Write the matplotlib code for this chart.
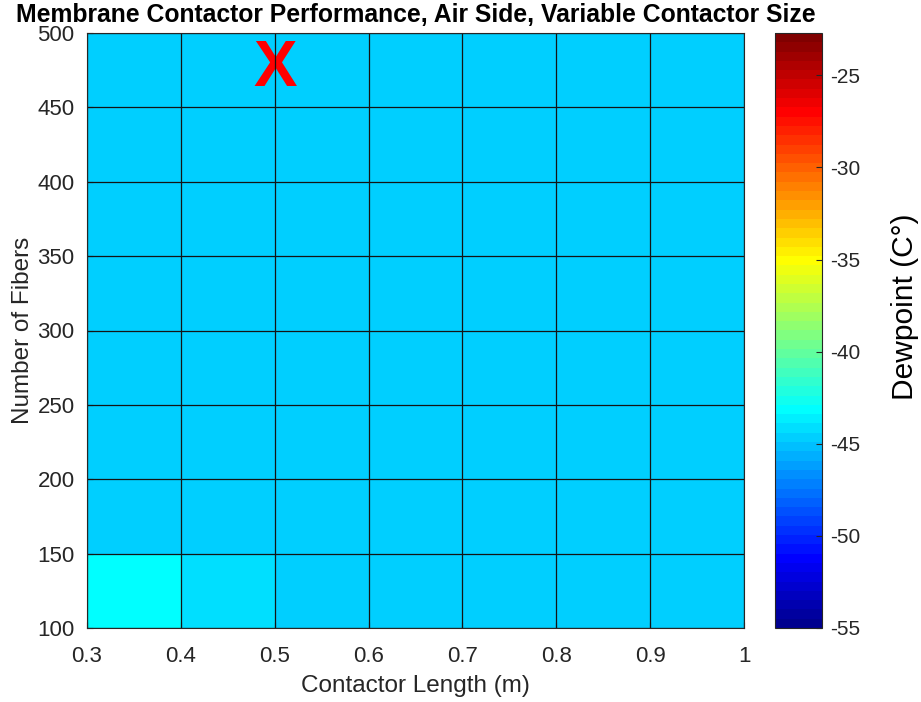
import numpy as np
import matplotlib
matplotlib.use("Agg")
import matplotlib.pyplot as plt
from matplotlib.colors import ListedColormap

plt.rcParams['font.family'] = ['Liberation Sans', 'DejaVu Sans']
plt.rcParams['axes.unicode_minus'] = False

# grid edges (contactor length in m, number of fibers)
lengths = [0.3, 0.4, 0.5, 0.6, 0.7, 0.8, 0.9, 1.0]
fibers = [100, 150, 200, 250, 300, 350, 400, 450, 500]

# dewpoint per cell (rows = fiber bands bottom->top, cols = length bands)
dewpoint = [
    [-43.1, -44.1, -44.6, -44.6, -44.6, -44.6, -44.6],
    [-44.6, -44.6, -44.6, -44.6, -44.6, -44.6, -44.6],
    [-44.6, -44.6, -44.6, -44.6, -44.6, -44.6, -44.6],
    [-44.6, -44.6, -44.6, -44.6, -44.6, -44.6, -44.6],
    [-44.6, -44.6, -44.6, -44.6, -44.6, -44.6, -44.6],
    [-44.6, -44.6, -44.6, -44.6, -44.6, -44.6, -44.6],
    [-44.6, -44.6, -44.6, -44.6, -44.6, -44.6, -44.6],
    [-44.6, -44.6, -44.6, -44.6, -44.6, -44.6, -44.6],
]
x_ticklabels = ['0.3', '0.4', '0.5', '0.6', '0.7', '0.8', '0.9', '1']
cbar_ticks = [-55, -50, -45, -40, -35, -30, -25]
clim = (-55, -22.7)
marker_pos = (0.5, 476)


def matlab_jet(n=64):
    # same construction as MATLAB's jet(n)
    m = int(np.ceil(n / 4))
    u = np.concatenate([np.arange(1, m + 1) / m, np.ones(m - 1), np.arange(m, 0, -1) / m])
    g = int(np.ceil(m / 2)) - (1 if n % 4 == 1 else 0) + np.arange(1, len(u) + 1)
    r = g + m
    b = g - m
    J = np.zeros((n, 3))
    for ch, idx in enumerate([r, g, b]):
        ok = (idx >= 1) & (idx <= n)
        J[idx[ok] - 1, ch] = u[ok]
    return ListedColormap(J)


tick_color = '#262626'

fig = plt.figure(figsize=(9.21, 7.02), dpi=100)
ax = fig.add_axes([87 / 921, 1 - 628 / 702, (744 - 87) / 921, (628 - 33) / 702])
cax = fig.add_axes([775 / 921, 1 - 628 / 702, (822 - 775) / 921, (628 - 33) / 702])

mesh = ax.pcolormesh(lengths, fibers, np.array(dewpoint), cmap=matlab_jet(64),
                     vmin=clim[0], vmax=clim[1], zorder=0)

ax.text(marker_pos[0], marker_pos[1], 'X', color='red', fontsize=47,
        fontweight='bold', ha='center', va='center', zorder=1)

# cell edges on top of the marker
ax.vlines(lengths, fibers[0], fibers[-1], colors='#141414', linewidth=0.9, zorder=2)
ax.hlines(fibers, lengths[0], lengths[-1], colors='#141414', linewidth=0.9, zorder=2)

ax.set_xlim(lengths[0], lengths[-1])
ax.set_ylim(fibers[0], fibers[-1])
ax.set_xticks(lengths)
ax.set_xticklabels(x_ticklabels)
ax.set_yticks(fibers)
ax.tick_params(direction='in', labelsize=16, colors=tick_color, length=4)
ax.tick_params(axis='x', pad=13)
ax.tick_params(axis='y', pad=9)
for s in ax.spines.values():
    s.set_color(tick_color)
    s.set_zorder(3)
ax.set_xlabel('Contactor Length (m)', fontsize=17.5, color=tick_color, labelpad=6)
ax.set_ylabel('Number of Fibers', fontsize=17.5, color=tick_color, labelpad=2)
ax.set_title('Membrane Contactor Performance, Air Side, Variable Contactor Size',
             fontsize=17.8, fontweight='bold', pad=8)

cb = fig.colorbar(mesh, cax=cax, ticks=cbar_ticks)
cb.ax.tick_params(direction='in', labelsize=15, colors=tick_color, length=4, pad=6)
cb.outline.set_edgecolor(tick_color)

# colorbar label, placed a bit above the colorbar centre as in the original
fig.text(905 / 921, 1 - 307 / 702, 'Dewpoint (C°)', rotation=90, fontsize=21.5,
         ha='center', va='center')

fig.savefig('out.png', dpi=100)
